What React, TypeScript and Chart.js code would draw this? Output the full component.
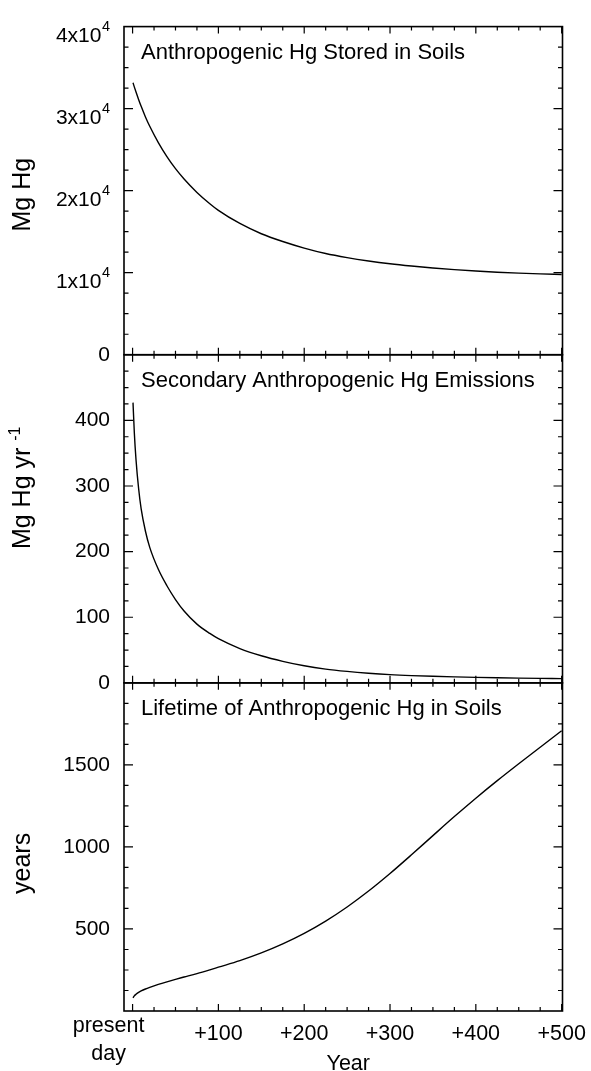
import React, { useEffect, useRef } from 'react';
import { Chart, registerables } from 'chart.js';

Chart.register(...registerables);

// ---------- data ----------
const YEARS = [0.5, 2, 4, 7, 10, 15, 20, 30, 40, 50, 60, 75, 90, 100, 125, 150, 175, 200, 225, 250, 275, 300, 325, 350, 375, 400, 425, 450, 475, 500];
const HG_STORED = [33150, 32655, 32025, 31125, 30280, 28990, 27845, 25865, 24155, 22685, 21425, 19790, 18410, 17600, 16000, 14750, 13800, 13000, 12335, 11835, 11425, 11085, 10810, 10575, 10375, 10205, 10060, 9945, 9855, 9780];
const HG_EMISSIONS = [427, 382, 340, 296.5, 265, 231, 206.5, 173, 148, 127, 109.5, 89.5, 75.3, 67.3, 52.3, 41.3, 32.8, 26, 21, 17.5, 14.75, 12.6, 11.1, 10, 9.1, 8.3, 7.7, 7.2, 6.8, 6.5];
const HG_LIFETIME = [80, 92, 102, 113, 122, 134, 144, 162, 178, 193, 207, 228, 251, 267, 307, 354, 409, 473, 548, 634, 731, 838, 952, 1069, 1185, 1297, 1404, 1507, 1608, 1708];

const PANEL_TITLES = [
  'Anthropogenic Hg Stored in Soils',
  'Secondary Anthropogenic Hg Emissions',
  'Lifetime of Anthropogenic Hg in Soils',
];
const Y_TITLES = ['Mg Hg', 'Mg Hg yr ', 'years'];
const Y_TITLE_SUPS = ['', '-1', ''];

const X_TICK_VALUES = [0, 100, 200, 300, 400, 500];
const X_TICK_LABELS: (string | string[])[] = [['present', 'day'], '+100', '+200', '+300', '+400', '+500'];
const X_TITLE = 'Year';

const Y1_TICK_VALUES = [0, 10000, 20000, 30000, 40000];
const Y1_TICK_LABELS = ['0', '1x10', '2x10', '3x10', '4x10'];
const Y1_TICK_SUPS = ['', '4', '4', '4', '4'];
const Y2_TICK_VALUES = [0, 100, 200, 300, 400];
const Y3_TICK_VALUES = [500, 1000, 1500];

// ---------- style constants ----------
const FONT = '"Liberation Sans", Arial, Helvetica, sans-serif';
const Y_MAJOR = [10000, 100, 500];
const Y_MINOR = [2500, 25, 125];
const X_MAJOR = 100;
const X_MINOR = 25;
const Y_TITLE_SHIFT = [4, -31, 16.5];

const decorPlugin = {
  id: 'panelDecor',
  afterDraw(chart: any) {
    const ctx: CanvasRenderingContext2D = chart.ctx;
    const area = chart.chartArea;
    const xs = chart.scales.x;
    const ys = [chart.scales.y1, chart.scales.y2, chart.scales.y3];
    ctx.save();
    ctx.strokeStyle = '#000';
    ctx.fillStyle = '#000';

    ys.forEach((s: any, i: number) => {
      const top = s.top;
      const bottom = s.bottom;
      // frame
      ctx.lineWidth = 1.6;
      ctx.strokeRect(area.left, top, area.right - area.left, bottom - top);
      // ticks
      ctx.lineWidth = 1.2;
      ctx.beginPath();
      const major = Y_MAJOR[i];
      const minor = Y_MINOR[i];
      for (let v = s.min + minor; v < s.max - 1e-9; v += minor) {
        const y = s.getPixelForValue(v);
        const isMajor = Math.abs(v / major - Math.round(v / major)) < 1e-6;
        const len = isMajor ? 9 : 4.5;
        ctx.moveTo(area.left, y);
        ctx.lineTo(area.left + len, y);
        ctx.moveTo(area.right, y);
        ctx.lineTo(area.right - len, y);
      }
      const x0 = X_TICK_VALUES[0];
      const x1 = X_TICK_VALUES[X_TICK_VALUES.length - 1];
      for (let v = x0; v <= x1 + 1e-9; v += X_MINOR) {
        const x = xs.getPixelForValue(v);
        const len = v % X_MAJOR === 0 ? 7 : 4;
        ctx.moveTo(x, bottom);
        ctx.lineTo(x, bottom - len);
        ctx.moveTo(x, top);
        ctx.lineTo(x, top + len);
      }
      ctx.stroke();

      // panel title
      ctx.font = `22px ${FONT}`;
      ctx.textAlign = 'left';
      ctx.textBaseline = 'alphabetic';
      ctx.fillText(PANEL_TITLES[i], area.left + 17, top + 32);

      // y title (rotated)
      ctx.save();
      ctx.translate(29.5, (top + bottom) / 2 + Y_TITLE_SHIFT[i]);
      ctx.rotate(-Math.PI / 2);
      ctx.font = `25px ${FONT}`;
      const wMain = ctx.measureText(Y_TITLES[i]).width;
      ctx.font = `16px ${FONT}`;
      const sup = Y_TITLE_SUPS[i];
      const wSup = sup ? ctx.measureText(sup).width : 0;
      const start = -(wMain + wSup) / 2;
      ctx.font = `25px ${FONT}`;
      ctx.textAlign = 'left';
      ctx.textBaseline = 'alphabetic';
      ctx.fillText(Y_TITLES[i], start, 0);
      if (sup) {
        ctx.font = `16px ${FONT}`;
        ctx.fillText(sup, start + wMain, -10);
      }
      ctx.restore();
    });

    // top-panel tick labels with superscripts
    const s1 = chart.scales.y1;
    const labelRight = area.left - 14;
    Y1_TICK_VALUES.forEach((v, k) => {
      const y = s1.getPixelForValue(v);
      const sup = Y1_TICK_SUPS[k];
      if (!sup) {
        ctx.font = `21px ${FONT}`;
        ctx.textAlign = 'right';
        ctx.textBaseline = 'middle';
        ctx.fillText(Y1_TICK_LABELS[k], labelRight, y);
      } else {
        ctx.font = `14.5px ${FONT}`;
        const wSup = ctx.measureText(sup).width;
        ctx.textBaseline = 'alphabetic';
        ctx.font = `21px ${FONT}`;
        ctx.textAlign = 'right';
        ctx.fillText(Y1_TICK_LABELS[k], labelRight - wSup - 0.5, y + 15);
        ctx.font = `14.5px ${FONT}`;
        ctx.textAlign = 'left';
        ctx.fillText(sup, labelRight - wSup, y + 4.5);
      }
    });

    // x tick labels
    ctx.font = `21.5px ${FONT}`;
    ctx.textAlign = 'center';
    ctx.textBaseline = 'alphabetic';
    X_TICK_VALUES.forEach((v, k) => {
      const x = xs.getPixelForValue(v);
      const lab = X_TICK_LABELS[k];
      if (Array.isArray(lab)) {
        lab.forEach((line, j) => ctx.fillText(line, x - 24, area.bottom + 21 + j * 28));
      } else {
        ctx.fillText(lab, x, area.bottom + 29);
      }
    });
    ctx.fillText(X_TITLE, (area.left + area.right) / 2 + 5, area.bottom + 59);

    ctx.restore();
  },
};

const hiddenGrid = { display: false, drawTicks: false };
const hiddenBorder = { display: false };

export default function App() {
  const canvasRef = useRef<HTMLCanvasElement | null>(null);

  useEffect(() => {
    if (!canvasRef.current) return;
    const mk = (vals: number[]) => YEARS.map((x, i) => ({ x, y: vals[i] }));
    const lineStyle = {
      borderColor: '#000',
      borderWidth: 1.4,
      pointRadius: 0,
      fill: false,
      cubicInterpolationMode: 'monotone' as const,
      xAxisID: 'x',
    };
    const tickFont = { family: FONT, size: 21 };
    const chart = new Chart(canvasRef.current, {
      type: 'line',
      data: {
        datasets: [
          { ...lineStyle, label: PANEL_TITLES[0], data: mk(HG_STORED), yAxisID: 'y1' },
          { ...lineStyle, label: PANEL_TITLES[1], data: mk(HG_EMISSIONS), yAxisID: 'y2' },
          { ...lineStyle, label: PANEL_TITLES[2], data: mk(HG_LIFETIME), yAxisID: 'y3' },
        ],
      },
      options: {
        animation: false,
        responsive: false,
        devicePixelRatio: 1,
        layout: { padding: { top: 21, right: 28.5, bottom: 0, left: 0 } },
        plugins: { legend: { display: false }, tooltip: { enabled: false } },
        scales: {
          x: {
            type: 'linear',
            position: 'bottom',
            min: -10,
            max: 501,
            ticks: { display: false },
            grid: hiddenGrid,
            border: hiddenBorder,
            afterFit: (s: any) => { s.height = 60; },
          },
          y1: {
            type: 'linear',
            position: 'left',
            stack: 'panels',
            stackWeight: 1,
            weight: 3,
            min: 0,
            max: 40000,
            ticks: { display: false },
            grid: hiddenGrid,
            border: hiddenBorder,
            afterFit: (s: any) => { s.width = 124; },
          },
          y2: {
            type: 'linear',
            position: 'left',
            stack: 'panels',
            stackWeight: 1,
            weight: 2,
            min: 0,
            max: 500,
            afterBuildTicks: (s: any) => { s.ticks = Y2_TICK_VALUES.map((v) => ({ value: v })); },
            ticks: { display: true, font: tickFont, color: '#000', padding: 14, callback: (v: any) => String(v) },
            grid: hiddenGrid,
            border: hiddenBorder,
            afterFit: (s: any) => { s.width = 124; },
          },
          y3: {
            type: 'linear',
            position: 'left',
            stack: 'panels',
            stackWeight: 1,
            weight: 1,
            min: 0,
            max: 2000,
            afterBuildTicks: (s: any) => { s.ticks = Y3_TICK_VALUES.map((v) => ({ value: v })); },
            ticks: { display: true, font: tickFont, color: '#000', padding: 14, callback: (v: any) => String(v) },
            grid: hiddenGrid,
            border: hiddenBorder,
            afterFit: (s: any) => { s.width = 124; },
          },
        },
      } as any,
      plugins: [decorPlugin],
    });
    return () => chart.destroy();
  }, []);

  return (
    <div style={{ position: 'absolute', left: 0, top: 0, width: 591, height: 1071, background: '#fff' }}>
      <canvas ref={canvasRef} width={591} height={1071} style={{ width: 591, height: 1071, display: 'block' }} />
    </div>
  );
}
